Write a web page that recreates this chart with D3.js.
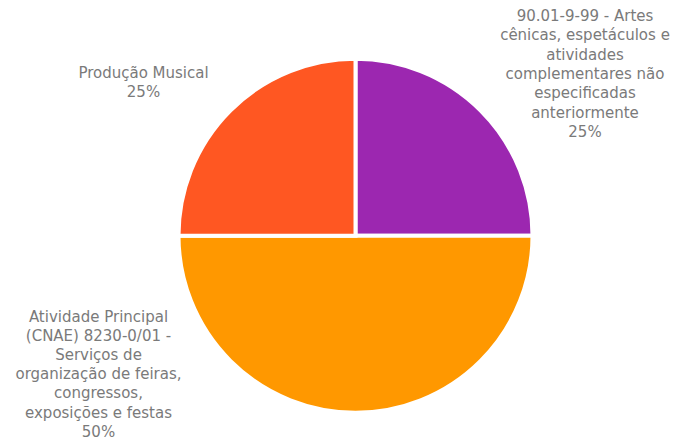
<!DOCTYPE html>
<html><head><meta charset="utf-8">
<script src="https://cdn.jsdelivr.net/npm/d3@7"></script>
<style>html,body{margin:0;padding:0;background:#fff;}svg{display:block;}</style>
</head><body>
<svg id="chart" width="677" height="441"></svg>
<script>
// ---- data ----
const categories = [
  "90.01-9-99 - Artes cênicas, espetáculos e atividades complementares não especificadas anteriormente",
  "Atividade Principal (CNAE) 8230-0/01 - Serviços de organização de feiras, congressos, exposições e festas",
  "Produção Musical"
];
const values = [25, 50, 25];
const percentLabels = ["25%", "50%", "25%"];
const labelLines = [
  ["90.01-9-99 - Artes", "cênicas, espetáculos e", "atividades", "complementares não", "especificadas", "anteriormente"],
  ["Atividade Principal", "(CNAE) 8230-0/01 -", "Serviços de", "organização de feiras,", "congressos,", "exposições e festas"],
  ["Produção Musical"]
];
const colors = ["#9C27B0", "#FF9800", "#FF5722"];

// ---- layout (not data) ----
const W = 677, H = 441;
const cx = 355.5, cy = 235.7, R = 177;
const labelLayout = [
  {x: 585, y: 16, lh: 19.3},
  {x: 98.5, y: 317, lh: 19.1},
  {x: 143.5, y: 73, lh: 19}
];
const font = "'DejaVu Sans', sans-serif";
const fontSize = 15;

const svg = d3.select("#chart");
const g = svg.append("g").attr("transform", `translate(${cx},${cy})`);

const pie = d3.pie().sort(null).value(d => d)(values);
const arc = d3.arc().innerRadius(0).outerRadius(R);

g.selectAll("path").data(pie).join("path")
  .attr("d", arc)
  .attr("fill", (d, i) => colors[i])
  .attr("stroke", "#fff")
  .attr("stroke-width", 4);

labelLayout.forEach((L, i) => {
  const lines = labelLines[i].concat([percentLabels[i]]);
  const t = svg.append("text")
    .attr("font-family", font)
    .attr("font-size", fontSize)
    .attr("fill", "#7a7a7a")
    .attr("text-anchor", "middle");
  lines.forEach((s, j) => {
    t.append("tspan").attr("x", L.x).attr("y", L.y + j * L.lh)
      .attr("dominant-baseline", "central").text(s);
  });
});
</script>
</body></html>
